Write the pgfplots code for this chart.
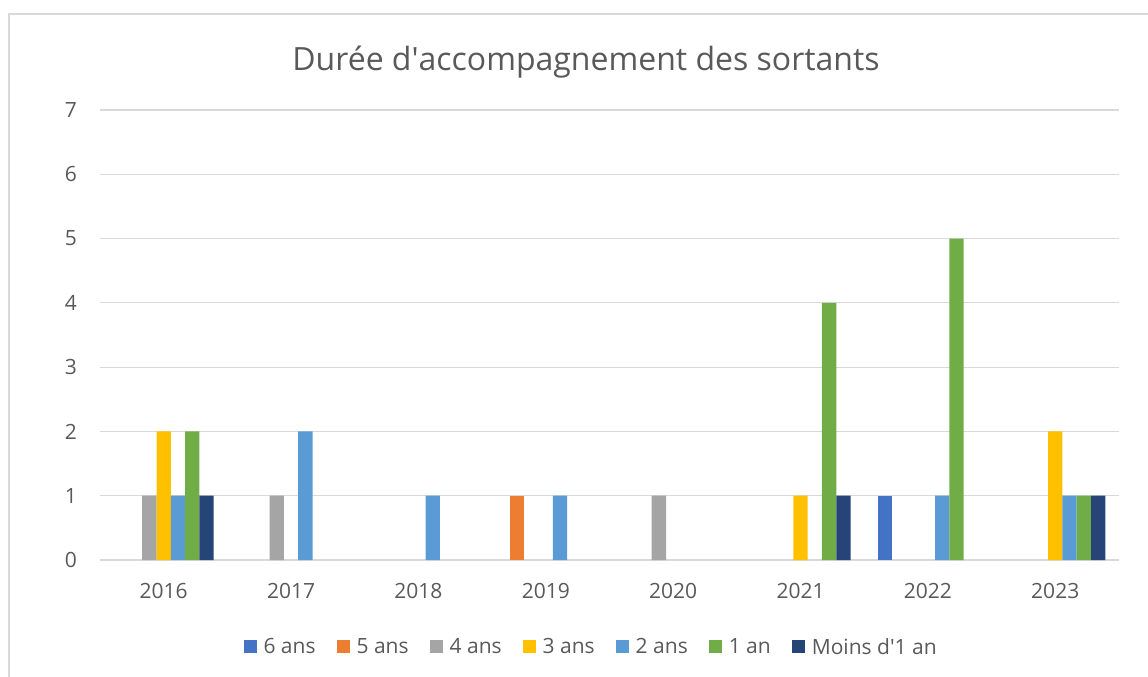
\documentclass[border=0pt]{standalone}
\usepackage{fontspec}
\setmainfont{Open Sans}
\usepackage{pgfplots}
\pgfplotsset{compat=1.18}
\definecolor{txtgray}{HTML}{595959}
\definecolor{gridgray}{HTML}{D9D9D9}
\definecolor{c6}{HTML}{4472C4}
\definecolor{c5}{HTML}{ED7D31}
\definecolor{c4}{HTML}{A5A5A5}
\definecolor{c3}{HTML}{FFC000}
\definecolor{c2}{HTML}{5B9BD5}
\definecolor{c1}{HTML}{70AD47}
\definecolor{c0}{HTML}{264478}

\begin{document}
\begin{tikzpicture}
\path[use as bounding box] (-100pt,-117pt) rectangle (1048pt,560pt);
\draw[gridgray, line width=1.2pt] (-91pt,-117pt) -- (-91pt,546pt) -- (1048pt,546pt);
\begin{axis}[
  at={(0pt,0pt)}, anchor=south west,
  scale only axis,
  width=1019pt, height=450pt,
  ybar=0pt, bar width=14.3pt,
  xmin=-0.5, xmax=7.5,
  ymin=0, ymax=7,
  xtick={0,...,7},
  xticklabels={2016,2017,2018,2019,2020,2021,2022,2023},
  ytick={0,...,7},
  major tick length=0pt,
  axis line style={draw=none},
  ymajorgrids=true,
  grid style={gridgray, line width=1.2pt},
  /pgf/number format/assume math mode=true,
  tick label style={text=txtgray, font=\fontsize{21}{25}\selectfont},
  xticklabel style={anchor=north, inner sep=0pt, yshift=-23pt},
  yticklabel style={anchor=east, inner sep=0pt, xshift=-23pt},
  title={Durée d\textquotesingle accompagnement des sortants},
  title style={at={(0.477,1.094)}, anchor=center, text=txtgray, font=\fontsize{32}{38}\selectfont},
  legend columns=-1,
  legend style={at={(0.482,-0.193)}, anchor=center, draw=none, fill=none,
    font=\fontsize{21}{25}\selectfont, text=txtgray,
    /tikz/every even column/.append style={column sep=19pt}},
  legend image code/.code={\fill[#1] (0pt,-6.5pt) rectangle (13pt,6.5pt);
    \path (18pt,0pt);},
]
\addplot[fill=c6, draw=none] coordinates {(6,1)};
\addplot[fill=c5, draw=none] coordinates {(3,1)};
\addplot[fill=c4, draw=none] coordinates {(0,1) (1,1) (4,1)};
\addplot[fill=c3, draw=none] coordinates {(0,2) (5,1) (7,2)};
\addplot[fill=c2, draw=none] coordinates {(0,1) (1,2) (2,1) (3,1) (6,1) (7,1)};
\addplot[fill=c1, draw=none] coordinates {(0,2) (5,4) (6,5) (7,1)};
\addplot[fill=c0, draw=none] coordinates {(0,1) (5,1) (7,1)};
\legend{6 ans, 5 ans, 4 ans, 3 ans, 2 ans, 1 an, Moins d\textquotesingle 1 an}
\end{axis}
\end{tikzpicture}
\end{document}
